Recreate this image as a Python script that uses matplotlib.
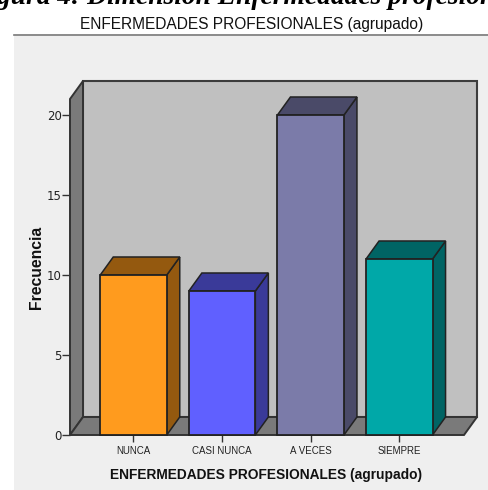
import matplotlib
matplotlib.use("Agg")
import matplotlib.pyplot as plt
from matplotlib.patches import Polygon, Rectangle
from matplotlib.lines import Line2D

categorias = ["NUNCA", "CASI NUNCA", "A VECES", "SIEMPRE"]
frecuencia = [10, 9, 20, 11]
ticks_y = [0, 5, 10, 15, 20]
color_frente = ["#FF9B1E", "#6060FF", "#7B7BA9", "#00A8A8"]
color_lado = ["#94590F", "#3A3A99", "#4A4A68", "#006464"]

W, H = 489, 490
fig = plt.figure(figsize=(W / 100, H / 100), dpi=100, facecolor="white")

def px(x, y):
    # pixel coords, origin top left -> figure fraction
    return x / W, 1 - y / H

# panel behind the chart
fig.add_artist(Rectangle(px(14, 490), (W - 14) / W, 454 / H, transform=fig.transFigure, fc="#EFEFEF", ec="none", zorder=-5))
x0, y0 = px(14, 35.5)
fig.add_artist(Line2D([x0, 1], [y0, y0], transform=fig.transFigure, color="#777777", lw=1.2, zorder=-4))

# caption cut by the top edge
fig.text(*px(255, 4), "Figura 4: Dimensión Enfermedades profesionales", family="Liberation Serif",
         weight="bold", style="italic", fontsize=19.8, ha="center", va="baseline", color="black")
fig.text(*px(251.5, 24), "ENFERMEDADES PROFESIONALES (agrupado)", family="Liberation Sans",
         fontsize=11.2, ha="center", va="center", color="#111111")

ax_l, ax_r, ax_t, ax_b = 70, 464, 99, 435
ax = fig.add_axes([ax_l / W, 1 - ax_b / H, (ax_r - ax_l) / W, (ax_b - ax_t) / H])
ax.patch.set_alpha(0)
paso = 88.6
xmin = (ax_l - 133.5) / paso
xmax = (ax_r - 133.5) / paso
ax.set_xlim(xmin, xmax)
ax.set_ylim(0, 21)

# depth of the 3d effect, in data units
dx = 13 / paso
dy = 1.125
ancho = 66.5 / paso
borde = "#222222"

# walls and floor
pared = "#C0C0C0"
lateral = "#7A7A7A"
ax.add_patch(Rectangle((xmin + dx, dy), xmax - xmin, 21, fc=pared, ec="#3C3C3C", lw=1.5, clip_on=False, zorder=1))
ax.add_patch(Polygon([(xmin, 0), (xmin + dx, dy), (xmin + dx, 21 + dy), (xmin, 21)], fc=lateral, ec="#333333", lw=1.4, clip_on=False, zorder=2))
ax.add_patch(Polygon([(xmin, 0), (xmax, 0), (xmax + dx, dy), (xmin + dx, dy)], fc=lateral, ec="#333333", lw=1.4, clip_on=False, zorder=2))

for i, v in enumerate(frecuencia):
    iz = i - ancho / 2
    de = i + ancho / 2
    ax.bar(i, v, width=ancho, color=color_frente[i], edgecolor=borde, linewidth=1.3, zorder=4, clip_on=False)
    ax.add_patch(Polygon([(de, 0), (de + dx, dy), (de + dx, v + dy), (de, v)], fc=color_lado[i], ec=borde, lw=1.1, zorder=3, clip_on=False))
    ax.add_patch(Polygon([(iz, v), (de, v), (de + dx, v + dy), (iz + dx, v + dy)], fc=color_lado[i], ec=borde, lw=1.1, zorder=3, clip_on=False))

for lado in ax.spines.values():
    lado.set_visible(False)
ax.set_xticks(range(len(categorias)))
ax.set_xticklabels(categorias, family="Liberation Sans", fontsize=7.0, color="#222222")
ax.set_yticks(ticks_y)
ax.tick_params(axis="x", length=5, width=1, color="#333333", pad=3)
ax.tick_params(axis="y", length=5.5, width=1, color="#333333", pad=0.5, labelsize=8.5, labelcolor="#222222")

fig.text(*px(36, 267), "Frecuencia", family="Liberation Sans", weight="bold", fontsize=11.3,
         rotation=90, ha="center", va="center", color="#111111")
fig.text(*px(266, 475), "ENFERMEDADES PROFESIONALES (agrupado)", family="Liberation Sans", weight="bold",
         fontsize=9.95, ha="center", va="center", color="#111111")

fig.savefig("out.png", dpi=100)
